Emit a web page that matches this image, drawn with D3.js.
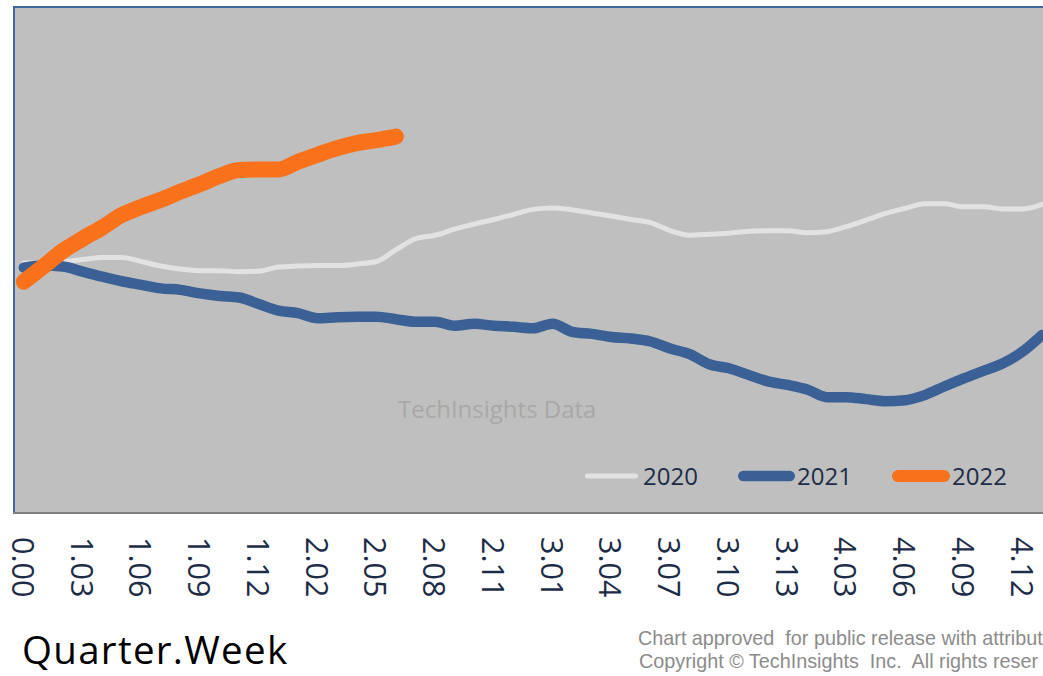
<!DOCTYPE html>
<html><head><meta charset="utf-8">
<script src="https://cdn.jsdelivr.net/npm/d3@7"></script>
<style>body{margin:0;background:#fff;overflow:hidden;} svg{display:block;}</style>
</head><body><svg id="c" width="1043" height="676"></svg>
<script>
const categories = ["0.00",
 "1.01","1.02","1.03","1.04","1.05","1.06","1.07","1.08","1.09","1.10","1.11","1.12","1.13",
 "2.01","2.02","2.03","2.04","2.05","2.06","2.07","2.08","2.09","2.10","2.11","2.12","2.13",
 "3.01","3.02","3.03","3.04","3.05","3.06","3.07","3.08","3.09","3.10","3.11","3.12","3.13",
 "4.01","4.02","4.03","4.04","4.05","4.06","4.07","4.08","4.09","4.10","4.11","4.12","4.13"];
const tickLabels = ["0.00","1.03","1.06","1.09","1.12","2.02","2.05","2.08","2.11",
 "3.01","3.04","3.07","3.10","3.13","4.03","4.06","4.09","4.12"];
const seriesNames = ["2020","2021","2022"];
const values2020 = [99.4,99.4,99.7,100.1,100.5,100.5,99.7,98.8,98.2,97.9,97.9,97.7,97.8,98.6,
 98.8,98.9,98.9,99.2,99.7,102.0,104.2,104.9,106.1,107.1,108.0,109.0,110.0,110.3,109.9,109.3,
 108.7,108.0,107.4,105.8,104.9,105.1,105.3,105.7,105.8,105.8,105.4,105.6,106.6,107.9,109.2,
 110.2,111.1,111.1,110.5,110.5,110.1,110.1,111.0];
const values2021 = [98.5,98.9,98.7,97.7,96.7,95.8,95.1,94.4,94.1,93.4,92.9,92.6,91.3,90.0,
 89.5,88.5,88.7,88.8,88.8,88.3,87.8,87.8,87.0,87.4,87.0,86.8,86.5,87.4,85.8,85.4,84.8,84.5,
 83.9,82.5,81.4,79.4,78.6,77.3,76.0,75.3,74.4,72.9,72.9,72.5,72.1,72.3,73.3,75.0,76.6,78.1,
 79.6,81.9,85.2];
const values2022 = [95.7,98.7,101.8,104.2,106.4,108.9,110.5,111.9,113.5,115.0,116.6,117.8,
 117.9,117.9,119.4,120.8,122.1,123.1,123.7,124.4];
const footLines = ["Chart approved  for public release with attribut",
 "Copyright \u00A9 TechInsights  Inc.  All rights reser"];
const seriesValues = [values2020, values2021, values2022];
const colors = ["#e2e2e2","#3a6096","#f9711a"];
const widths = [5,10.5,16];
const legendWidths = [5,10.5,12];

const svg = d3.select("#c");
const W = 1043, H = 676;
const plot = {left:14, top:7, bottom:513, right:1052};

const x = d3.scalePoint().domain(categories).range([plot.left, plot.right]).padding(0.5);
const y = d3.scaleLinear().domain([50,150]).range([plot.bottom, plot.top]);

svg.append("defs").append("clipPath").attr("id","clip")
  .append("rect").attr("x",plot.left).attr("y",plot.top-2).attr("width",W-plot.left).attr("height",plot.bottom-plot.top+2);

// plot background + border
svg.append("rect").attr("x",plot.left).attr("y",plot.top).attr("width",1200).attr("height",plot.bottom-plot.top)
  .attr("fill","#bfbfbf").attr("stroke","#41689d").attr("stroke-width",2);

// watermark
svg.append("text").attr("x",398).attr("y",418).text("TechInsights Data")
  .attr("font-family","'Open Sans', sans-serif").attr("font-size",24).attr("fill","#a8a8a8");

// lines
const line = d3.line().x((d,i)=>x(categories[i])).y(d=>y(d)).curve(d3.curveMonotoneX);
const g = svg.append("g").attr("clip-path","url(#clip)");
seriesValues.forEach((vals,k)=>{
  g.append("path").datum(vals).attr("d",line).attr("fill","none")
    .attr("stroke",colors[k]).attr("stroke-width",widths[k])
    .attr("stroke-linecap","round").attr("stroke-linejoin","round");
});

// bottom axis line
svg.append("line").attr("x1",plot.left-1).attr("x2",W).attr("y1",plot.bottom).attr("y2",plot.bottom)
  .attr("stroke","#7f7f7f").attr("stroke-width",2);

// x axis labels
const axis = d3.axisBottom(x).tickValues(tickLabels).tickSize(0).tickPadding(0);
const ax = svg.append("g").attr("transform",`translate(-1.5,537)`).call(axis);
ax.select(".domain").remove();
ax.selectAll("text")
  .attr("transform","rotate(90)")
  .attr("x",0).attr("y",0).attr("dy","0.36em")
  .attr("text-anchor","start")
  .attr("font-family","'Open Sans', sans-serif").attr("font-size",30.5).attr("fill","#1d2c47");

// legend
const legendItems = [
  {x1:585,x2:638,tx:643},
  {x1:738,x2:795,tx:797},
  {x1:892,x2:950,tx:952}
];
seriesNames.forEach((name,k)=>{
  const L = legendItems[k];
  const hw = legendWidths[k]/2;
  svg.append("line").attr("x1",L.x1+hw).attr("x2",L.x2-hw).attr("y1",476).attr("y2",476)
    .attr("stroke",colors[k]).attr("stroke-width",legendWidths[k]).attr("stroke-linecap","round");
  svg.append("text").attr("x",L.tx).attr("y",485).text(name)
    .attr("font-family","'Open Sans', sans-serif").attr("font-size",24).attr("fill","#1d2c47");
});

// axis title
svg.append("text").attr("x",22).attr("y",664).text("Quarter.Week")
  .attr("font-family","'Open Sans', sans-serif").attr("font-size",38.5)
  .attr("letter-spacing",1.3).attr("fill","#000");

// copyright
const foot = svg.append("g").attr("font-family","'Liberation Sans', Arial, sans-serif")
  .attr("font-size",19.8).attr("fill","#8c8c8c");
foot.append("text").attr("x",638).attr("y",645).attr("xml:space","preserve").style("white-space","pre")
  .text(footLines[0]);
foot.append("text").attr("x",639).attr("y",668).attr("xml:space","preserve").style("white-space","pre")
  .text(footLines[1]);
</script></body></html>
